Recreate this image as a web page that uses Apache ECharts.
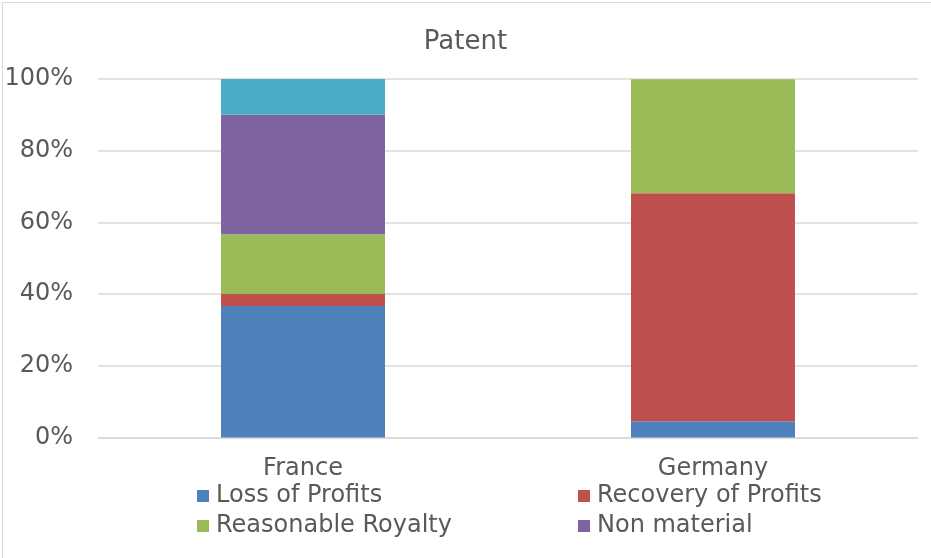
<!DOCTYPE html>
<html>
<head>
<meta charset="utf-8">
<script src="https://cdn.jsdelivr.net/npm/echarts@6/dist/echarts.min.js"></script>
<style>
html,body{margin:0;padding:0;background:#fff;}
#chart{width:931px;height:558px;}
</style>
</head>
<body>
<div id="chart"></div>
<script>
var categories = ['France', 'Germany'];
var lossOfProfits = [36.7, 4.5];
var recoveryOfProfits = [3.3, 63.6];
var reasonableRoyalty = [16.7, 31.8];
var nonMaterial = [33.3, 0];
var otherRemedy = [10.0, 0];
var yTicks = [0, 20, 40, 60, 80, 100];

var seriesNames = ['Loss of Profits', 'Recovery of Profits', 'Reasonable Royalty', 'Non material', 'Other'];
var seriesData = [lossOfProfits, recoveryOfProfits, reasonableRoyalty, nonMaterial, otherRemedy];
var colors = ['#4F81BD', '#C0504D', '#9BBB59', '#8064A2', '#4BACC6'];

var FONT = 'DejaVu Sans';
var TXT = '#595959';

function mkLegend(name, left, top) {
  return {
    data: [name], left: left, top: top, padding: 0,
    itemWidth: 12, itemHeight: 12, itemGap: 0,
    icon: 'rect',
    textStyle: {fontFamily: FONT, fontSize: 24, color: TXT, padding: [0, 0, 0, 2]},
    selectedMode: false
  };
}

var chart = echarts.init(document.getElementById('chart'), null, {renderer: 'canvas'});
chart.setOption({
  animation: false,
  backgroundColor: '#fff',
  color: colors,
  title: {
    text: 'Patent', left: 'center', top: 24,
    textStyle: {fontFamily: FONT, fontSize: 26, fontWeight: 'normal', color: TXT}
  },
  graphic: [{
    type: 'rect', left: 0, top: 0, silent: true,
    shape: {x: 0, y: 0, width: 930, height: 557},
    style: {fill: 'none', stroke: '#d9d9d9', lineWidth: 1}
  }],
  legend: [
    mkLegend(seriesNames[0], 197, 484),
    mkLegend(seriesNames[1], 578, 484),
    mkLegend(seriesNames[2], 197, 514),
    mkLegend(seriesNames[3], 578, 514)
  ],
  grid: {left: 98, right: 13, top: 79, bottom: 120.5, containLabel: false},
  xAxis: {
    type: 'category', data: categories,
    axisLine: {lineStyle: {color: '#d9d9d9', width: 1.5}},
    axisTick: {show: false},
    axisLabel: {fontFamily: FONT, fontSize: 24, color: TXT, margin: 19}
  },
  yAxis: {
    type: 'value', min: yTicks[0], max: yTicks[yTicks.length - 1], interval: 20,
    axisLine: {show: false}, axisTick: {show: false},
    splitLine: {lineStyle: {color: '#d9d9d9', width: 1.5}},
    axisLabel: {fontFamily: FONT, fontSize: 24, color: TXT, margin: 25, formatter: '{value}%'}
  },
  series: seriesNames.map(function (n, i) {
    return {
      name: n, type: 'bar', stack: 'total', barWidth: '40%',
      data: seriesData[i],
      itemStyle: {color: colors[i]}
    };
  })
});
</script>
</body>
</html>
